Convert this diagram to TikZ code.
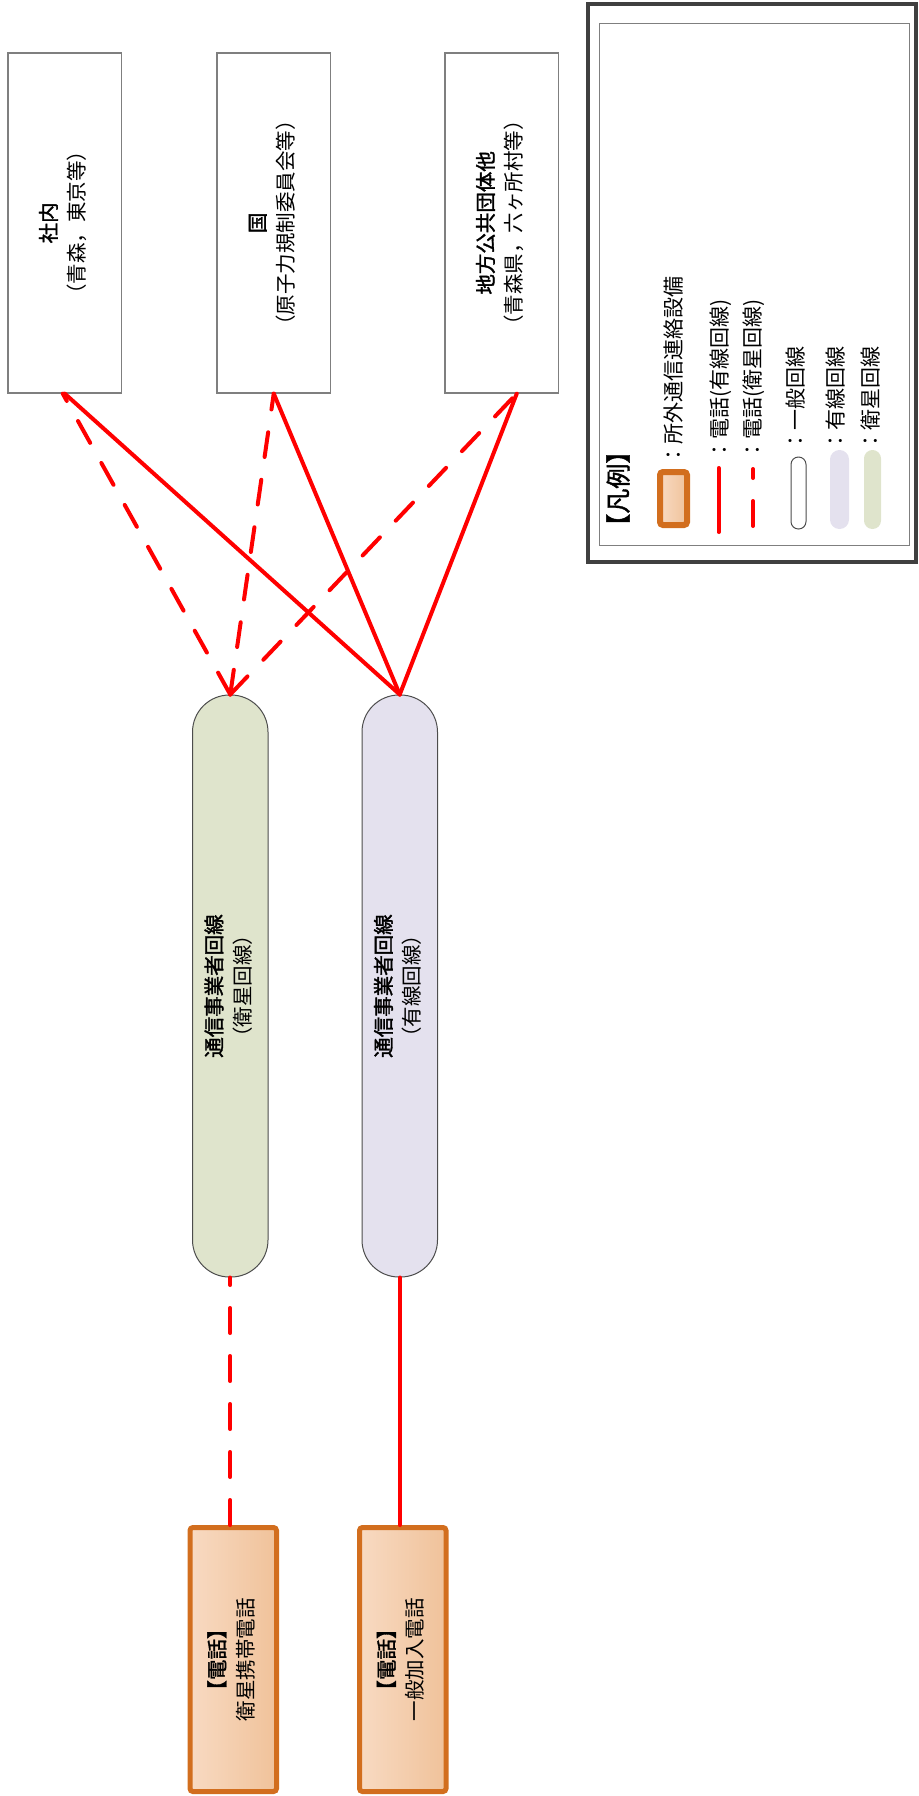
\documentclass[tikz,border=0pt]{standalone}
\usepackage{fontspec}
\setmainfont{Noto Sans CJK JP}[BoldFont=*, BoldFeatures={FakeBold=1.6}]
\usepackage{graphicx}
\usetikzlibrary{positioning}

\definecolor{linered}{RGB}{255,0,0}
\definecolor{boxgray}{RGB}{127,127,127}
\definecolor{satgreen}{RGB}{223,228,204}
\definecolor{wirepurple}{RGB}{228,225,238}
\definecolor{phoneedge}{RGB}{210,110,30}
\definecolor{phonelight}{RGB}{248,218,194}
\definecolor{phonedark}{RGB}{240,194,154}
\definecolor{framegray}{RGB}{64,64,64}

\newcommand{\vtext}[1]{\rotatebox{90}{\begin{tabular}{@{}c@{}}#1\end{tabular}}}

\begin{document}
\begin{tikzpicture}
    [x=0.5pt, y=-0.5pt, font=\fontsize{10.25}{14.25}\selectfont,
    % STYLES
    % The party style is used for the organisations at the top
    party/.style={rectangle, draw=boxgray, line width=0.75pt, fill=white, inner sep=0pt, minimum width=56.75pt, minimum height=170pt},
    % The carrier style is used for the carrier lines
    carrier/.style={rectangle, draw=black!70, line width=0.5pt, rounded corners=18.5pt, inner sep=0pt, minimum width=37.75pt, minimum height=291pt},
    % The phone style is used for the telephone sets
    phone/.style={rectangle, draw=phoneedge, line width=2.5pt, rounded corners=1.5pt, left color=phonelight, right color=phonedark, inner sep=0pt, minimum width=43.25pt, minimum height=132pt},
    % The wired and satlink styles are used for the phone links
    wired/.style={draw=linered, line width=2pt, line cap=round},
    satlink/.style={wired, dash pattern=on 12.5pt off 11.5pt},
    legtext/.style={inner sep=0pt, anchor=south, font=\fontsize{10.5}{13.5}\selectfont}]

    \useasboundingbox (0,0) rectangle (918,1796);

    % Draw organisations
    \node [party] (shanai) at (64.75,222.85) {\vtext{\textbf{社内}\\（青森，東京等）}};
    \node [party, right=47pt of shanai] (kuni) {\vtext{\textbf{国}\\（原子力規制委員会等）}};
    \node [party, right=56.5pt of kuni] (chiho) {\vtext{\textbf{地方公共団体他}\\（青森県，六ヶ所村等）}};

    % Draw carrier lines
    \node [carrier, fill=satgreen] (eisei) at (230.25,986) {\vtext{\textbf{通信事業者回線}\\（衛星回線）}};
    \node [carrier, fill=wirepurple, right=46.5pt of eisei] (yusen) {\vtext{\textbf{通信事業者回線}\\（有線回線）}};

    % Draw telephones
    \node [phone] (keitai) at (233.25,1659.5) {\vtext{\textbf{【電話】}\\衛星携帯電話}};
    \node [phone, right=39pt of keitai] (kanyu) {\vtext{\textbf{【電話】}\\一般加入電話}};

    % Draw the links
    \path [wired]
    (yusen.north) edge (shanai.south)
    (yusen.north) edge (kuni.south)
    (yusen.north) edge ([xshift=7.5pt]chiho.south)
    (kanyu.north -| yusen.south) edge (yusen.south);
    \path [satlink]
    (eisei.north) edge ([xshift=-1pt]shanai.south)
    (eisei.north) edge (kuni.south)
    (eisei.north) edge ([xshift=7.5pt]chiho.south)
    (keitai.north -| eisei.south) edge (eisei.south);

    % Legend
    \draw [framegray, line width=2pt] (588,3.5) rectangle (916,562);
    \draw [boxgray, line width=0.5pt] (599.5,23) rectangle (909,545);
    \node [legtext, font=\bfseries\fontsize{12.5}{13.5}\selectfont] (legtitle) at (621,539) {\vtext{【凡例】}};

    \node [phone, line width=3pt, minimum width=13.5pt, minimum height=26.5pt] (legphone) at (673.5,498.5) {};
    \node [legtext] (legphonetext) at (676,466) {\vtext{：所外通信連絡設備}};

    \coordinate (legwireda) at (718.7,532);
    \coordinate (legwiredb) at (718.7,468);
    \draw [wired] (legwireda) -- (legwiredb);
    \node [legtext] (legwiredtext) at (722,461) {\vtext{：電話(有線回線)}};

    \coordinate (legsata) at (753,526);
    \coordinate (legsatb) at (753,469);
    \draw [satlink] (legsata) -- (legsatb);
    \node [legtext] (legsattext) at (755,461) {\vtext{：電話(衛星回線)}};

    \node [carrier, fill=white, minimum width=7.5pt, minimum height=36pt, rounded corners=3.7pt] (legpublic) at (798.5,493) {};
    \node [legtext] (legpublictext) at (798,452) {\vtext{：一般回線}};
    \node [carrier, draw=none, fill=wirepurple, minimum width=9.5pt, minimum height=39.5pt, rounded corners=4.7pt] (legwire) at (839.5,489.5) {};
    \node [legtext] (legwiretext) at (838,452) {\vtext{：有線回線}};
    \node [carrier, draw=none, fill=satgreen, minimum width=8.5pt, minimum height=39.5pt, rounded corners=4.2pt] (legsat) at (872.5,489.5) {};
    \node [legtext] (legsattexttwo) at (873,452) {\vtext{：衛星回線}};
\end{tikzpicture}
\end{document}
